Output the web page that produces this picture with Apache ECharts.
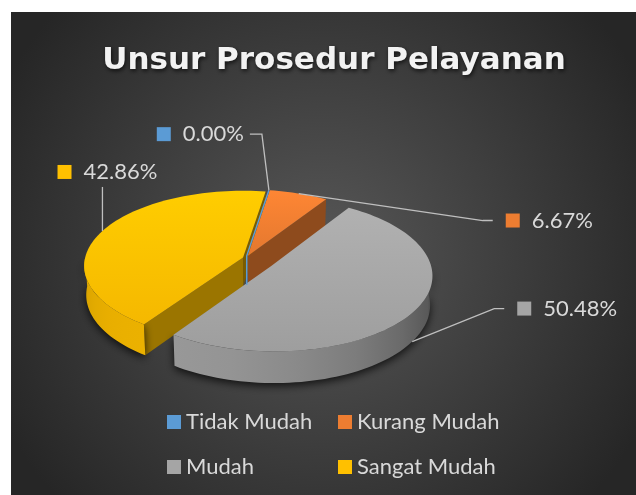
<!DOCTYPE html>
<html>
<head>
<meta charset="utf-8">
<style>
  html, body { margin: 0; padding: 0; background: #fff; }
  #main { width: 636px; height: 495px; }
</style>
<script src="https://cdn.jsdelivr.net/npm/echarts@6/dist/echarts.min.js"></script>
</head>
<body>
<div id="main"></div>
<script>
// data
const chartTitle = 'Unsur Prosedur Pelayanan';
const categories = ['Tidak Mudah', 'Kurang Mudah', 'Mudah', 'Sangat Mudah'];
const percentValues = [0.00, 6.67, 50.48, 42.86];

// styles
const palette = ['#5B9BD5', '#ED7D31', '#A5A5A5', '#FFC000'];
const FONT = 'Lato, "Open Sans", sans-serif';
const TEXT_COLOR = '#d9d9d9';

// 3d pie look (Excel style, tilted with a bit of perspective)
const pie = {
  cx: 246, cy: 258, r: 158,
  tilt: 28 * Math.PI / 180,
  dist: 8,
  thick: 0.21,
  start: 9 * Math.PI / 180,
  explode: [0.03, 0.03, 0.19, 0.02]
};
// leader line elbow (relative to the slice anchor) and label side
const labelLayout = [
  { dx: -7, dy: -56, run: -12, side: 'left' },
  { dx: 184, dy: 27, run: 10, side: 'right' },
  { dx: 82, dy: -33, run: 10, side: 'right' },
  { dx: 0, dy: -44, run: 0, side: 'top' }
];

const TAU = Math.PI * 2;
const total = percentValues.reduce((a, b) => a + b, 0);

function sliceAngles(i) {
  let acc = 0;
  for (let k = 0; k < i; k++) acc += percentValues[k];
  const a0 = pie.start + acc / total * TAU;
  return [a0, a0 + percentValues[i] / total * TAU];
}

function project(off, r, a, z) {
  const t = pie.tilt;
  const X = off[0] + r * Math.sin(a);
  const Y = off[1] + r * Math.cos(a);
  const up = Y * Math.sin(t) + z * Math.cos(t);
  const d = pie.dist + Y * Math.cos(t) - z * Math.sin(t);
  const f = pie.dist / d;
  return [pie.cx + pie.r * X * f, pie.cy - pie.r * up * f];
}

function shade(hex, b) {
  const n = parseInt(hex.slice(1), 16);
  const c = [(n >> 16) & 255, (n >> 8) & 255, n & 255].map(v => Math.max(0, Math.min(255, Math.round(v * b))));
  return 'rgb(' + c.join(',') + ')';
}

// light comes from the front left
function wallLight(nx, ny) {
  const d = nx * -0.6 + ny * -0.8;
  return Math.max(0.3, Math.min(1.0, 0.62 + 0.3 * d));
}

function arc(P, a0, a1, z) {
  const n = Math.max(2, Math.ceil((a1 - a0) / (TAU / 180)));
  const pts = [];
  for (let k = 0; k <= n; k++) pts.push(P(a0 + (a1 - a0) * k / n, z));
  return pts;
}

function renderSlice(params, api) {
  const i = params.seriesIndex;
  const value = api.value(0);
  const [a0, a1] = sliceAngles(i);
  const mid = (a0 + a1) / 2;
  const e = pie.explode[i];
  const off = [e * Math.sin(mid), e * Math.cos(mid)];
  const h = -pie.thick;
  const color = palette[i];
  const camY = -pie.dist * Math.cos(pie.tilt);
  const P = (a, z) => project(off, 1, a, z);
  const C0 = project(off, 0, 0, 0);
  const C1 = project(off, 0, 0, h);
  const children = [];

  if (a1 - a0 > 1e-6) {
    // outer wall, front half only
    for (let k = -1; k <= 2; k++) {
      const lo = Math.max(a0, Math.PI / 2 + k * TAU);
      const hi = Math.min(a1, 1.5 * Math.PI + k * TAU);
      if (hi <= lo) continue;
      const top = arc(P, lo, hi, 0);
      const bot = arc(P, lo, hi, h).reverse();
      const xs = top.map(p => p[0]);
      const xMin = Math.min(...xs), xMax = Math.max(...xs);
      const stops = [];
      for (let s = 0; s <= 6; s++) {
        const a = lo + (hi - lo) * s / 6;
        const x = P(a, 0)[0];
        stops.push({
          offset: xMax > xMin ? (x - xMin) / (xMax - xMin) : 0,
          color: shade(color, wallLight(Math.sin(a), Math.cos(a)))
        });
      }
      stops.sort((p, q) => p.offset - q.offset);
      const meanY = off[1] + Math.cos((lo + hi) / 2);
      children.push({
        type: 'polygon', z2: 3 - meanY,
        shape: { points: top.concat(bot) },
        style: {
          fill: new echarts.graphic.LinearGradient(xMin, 0, xMax, 0, stops, true),
          shadowBlur: 8, shadowColor: 'rgba(0,0,0,0.75)', shadowOffsetY: 3
        }
      });
    }
    // cut faces
    [[a0, -1], [a1, 1]].forEach(([a, s]) => {
      const nx = s * Math.cos(a), ny = -s * Math.sin(a);
      const px = off[0] + 0.5 * Math.sin(a), py = off[1] + 0.5 * Math.cos(a);
      if (nx * (0 - px) + ny * (camY - py) <= 0) return;
      children.push({
        type: 'polygon', z2: 3 - py,
        shape: { points: [C0, P(a, 0), P(a, h), C1] },
        style: { fill: shade(color, wallLight(nx, ny)) }
      });
    });
    // top face
    children.push({
      type: 'polygon', z2: 6,
      shape: { points: [C0].concat(arc(P, a0, a1, 0)) },
      style: {
        fill: new echarts.graphic.LinearGradient(0, 0, 0, 1, [
          { offset: 0, color: shade(color, 1.07) },
          { offset: 1, color: shade(color, 0.96) }
        ])
      }
    });
  } else {
    children.push({
      type: 'polyline', z2: 7,
      shape: { points: [P(a0, 0), C0, C1] },
      style: { stroke: color, lineWidth: 1.5, fill: null }
    });
  }

  // data label with leader line
  const L = labelLayout[i];
  const anchor = Math.cos(mid) < 0 ? P(mid, h) : P(mid, 0);
  const elbow = [anchor[0] + L.dx, anchor[1] + L.dy];
  const end = [elbow[0] + L.run, elbow[1]];
  children.push({
    type: 'polyline', z2: 9,
    shape: { points: [anchor, elbow, end] },
    style: { stroke: '#bfbfbf', lineWidth: 1.3, fill: null }
  });
  let tx = end[0] + 13, ty = end[1], align = 'left';
  if (L.side === 'left') { tx = end[0] - 6; align = 'right'; }
  if (L.side === 'top') { tx = end[0] + 5; ty = end[1] - 15; align = 'center'; }
  children.push({
    type: 'text', z2: 10,
    style: {
      x: tx, y: ty, align: align, verticalAlign: 'middle',
      text: '{k|}{g|}{t|' + value.toFixed(2) + '%}',
      rich: {
        k: { width: 14, height: 14, backgroundColor: color },
        g: { width: 12, height: 14 },
        t: { fontSize: 22, fontFamily: FONT, fill: TEXT_COLOR }
      }
    }
  });
  return { type: 'group', children: children };
}

const chart = echarts.init(document.getElementById('main'));
chart.setOption({
  animation: false,
  color: palette,
  graphic: [{
    type: 'rect', z: -10, silent: true,
    shape: { x: 11, y: 12, width: 625, height: 483 },
    style: {
      fill: new echarts.graphic.RadialGradient(0.5, 0.5, 0.75, [
        { offset: 0, color: '#575757' },
        { offset: 1, color: '#262626' }
      ])
    }
  }],
  title: {
    text: chartTitle,
    left: 329, top: 40, textAlign: 'center',
    textStyle: {
      color: '#f2f2f2', fontSize: 31, fontWeight: 'bold', fontFamily: '"DejaVu Sans", sans-serif',
      textShadowColor: 'rgba(0,0,0,0.7)', textShadowBlur: 4, textShadowOffsetX: 1, textShadowOffsetY: 2
    }
  },
  legend: [0, 1].map(col => ({
    data: [categories[col], categories[col + 2]],
    orient: 'vertical', left: [167, 338][col], top: 410, padding: 0,
    itemGap: 21, itemWidth: 14, itemHeight: 14, icon: 'rect',
    selectedMode: false,
    textStyle: { color: TEXT_COLOR, fontSize: 22, fontFamily: FONT, lineHeight: 24 }
  })),
  series: categories.map((name, i) => ({
    type: 'custom',
    name: name,
    coordinateSystem: 'none',
    itemStyle: { color: palette[i] },
    renderItem: renderSlice,
    data: [[percentValues[i]]]
  }))
});
</script>
</body>
</html>
